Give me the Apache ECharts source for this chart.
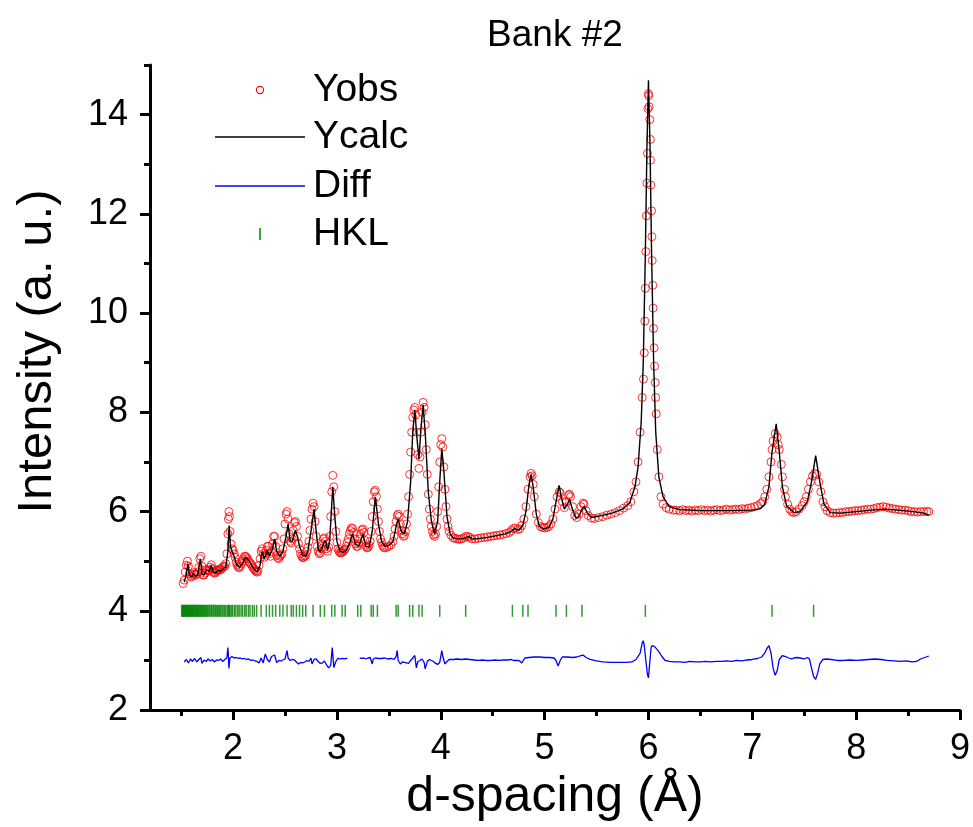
<!DOCTYPE html>
<html>
<head>
<meta charset="utf-8">
<title>Bank #2</title>
<script src="https://cdn.jsdelivr.net/npm/echarts@6/dist/echarts.min.js"></script>
<style>
  html, body { margin: 0; padding: 0; background: #ffffff; }
  #chart { width: 973px; height: 827px; }
</style>
</head>
<body>
<div id="chart"></div>
<script>
// Observed intensity [d-spacing (Å), intensity]
const yobs = [
  [1.52,4.55],[1.53,4.62],[1.54,4.78],[1.55,4.92],[1.56,5.00],[1.57,4.90],[1.58,4.75],[1.59,4.70],[1.60,4.68],
  [1.61,4.72],[1.62,4.77],[1.63,4.74],[1.64,4.72],[1.65,4.74],[1.66,4.78],[1.67,4.88],[1.68,5.05],[1.69,5.10],
  [1.70,4.90],[1.71,4.72],[1.72,4.72],[1.73,4.76],[1.74,4.83],[1.75,4.82],[1.76,4.80],[1.77,4.82],[1.78,4.88],
  [1.79,4.93],[1.80,4.85],[1.81,4.78],[1.82,4.76],[1.83,4.77],[1.84,4.80],[1.85,4.82],[1.86,4.84],[1.87,4.82],
  [1.88,4.83],[1.89,4.85],[1.90,4.88],[1.91,4.90],[1.92,4.90],[1.93,4.95],[1.94,5.15],[1.95,5.55],[1.955,5.85],
  [1.96,6.00],[1.965,5.90],[1.97,5.60],[1.98,5.35],[1.99,5.25],[2.00,5.22],[2.01,5.15],[2.02,5.08],[2.03,4.98],
  [2.04,4.92],[2.05,4.88],[2.06,4.87],[2.07,4.90],[2.08,4.95],[2.09,5.00],[2.10,5.05],[2.11,5.10],[2.12,5.10],
  [2.13,5.08],[2.14,5.05],[2.15,5.00],[2.16,4.97],[2.17,4.95],[2.18,4.92],[2.19,4.88],[2.20,4.85],[2.21,4.82],
  [2.22,4.80],[2.23,4.78],[2.24,4.80],[2.25,4.92],[2.26,5.05],[2.27,5.20],[2.28,5.25],[2.29,5.15],[2.30,5.08],
  [2.31,5.12],[2.32,5.22],[2.33,5.30],[2.34,5.30],[2.35,5.15],[2.36,5.10],[2.37,5.20],[2.38,5.35],[2.39,5.50],
  [2.40,5.50],[2.41,5.30],[2.42,5.12],[2.43,5.07],[2.44,5.05],[2.45,5.10],[2.46,5.12],[2.47,5.15],[2.48,5.25],
  [2.49,5.45],[2.50,5.75],[2.51,5.95],[2.52,6.00],[2.53,5.85],[2.54,5.55],[2.55,5.40],[2.56,5.37],[2.57,5.45],
  [2.58,5.62],[2.59,5.78],[2.60,5.80],[2.61,5.70],[2.62,5.50],[2.63,5.35],[2.64,5.25],[2.65,5.15],[2.66,5.10],
  [2.67,5.07],[2.68,5.08],[2.69,5.10],[2.70,5.12],[2.71,5.20],[2.72,5.28],[2.73,5.40],[2.74,5.62],[2.75,5.85],
  [2.76,6.05],[2.77,6.17],[2.78,6.10],[2.79,5.80],[2.80,5.50],[2.81,5.30],[2.82,5.20],[2.83,5.15],[2.84,5.17],
  [2.85,5.25],[2.86,5.35],[2.87,5.45],[2.88,5.47],[2.89,5.40],[2.90,5.25],[2.91,5.20],[2.92,5.28],[2.93,5.50],
  [2.94,5.90],[2.95,6.40],[2.96,6.73],[2.97,6.50],[2.98,6.00],[2.99,5.60],[3.00,5.38],[3.01,5.25],[3.02,5.20],
  [3.03,5.17],[3.04,5.17],[3.05,5.18],[3.06,5.20],[3.07,5.22],[3.08,5.25],[3.09,5.30],[3.10,5.38],[3.11,5.45],
  [3.12,5.55],[3.13,5.62],[3.14,5.67],[3.15,5.66],[3.16,5.58],[3.17,5.45],[3.18,5.35],[3.19,5.30],[3.20,5.30],
  [3.21,5.35],[3.22,5.45],[3.23,5.55],[3.24,5.63],[3.25,5.65],[3.26,5.58],[3.27,5.42],[3.28,5.30],[3.29,5.27],
  [3.30,5.28],[3.31,5.32],[3.32,5.40],[3.33,5.60],[3.34,5.90],[3.35,6.20],[3.36,6.40],[3.37,6.43],[3.38,6.30],
  [3.39,6.05],[3.40,5.80],[3.41,5.60],[3.42,5.45],[3.43,5.38],[3.44,5.32],[3.45,5.28],[3.46,5.27],[3.48,5.28],
  [3.50,5.30],[3.52,5.33],[3.54,5.40],[3.55,5.50],[3.56,5.65],[3.57,5.80],[3.58,5.92],[3.59,5.95],[3.60,5.90],
  [3.61,5.75],[3.62,5.62],[3.63,5.55],[3.64,5.50],[3.65,5.52],[3.66,5.60],[3.67,5.75],[3.68,5.95],[3.69,6.30],
  [3.70,6.75],[3.71,7.20],[3.72,7.60],[3.73,7.90],[3.74,8.05],[3.75,8.10],[3.76,7.95],[3.77,7.60],[3.78,7.15],
  [3.79,6.87],[3.80,7.10],[3.81,7.60],[3.82,8.00],[3.83,8.20],[3.84,8.10],[3.85,7.75],[3.86,7.25],[3.87,6.75],
  [3.88,6.35],[3.89,6.05],[3.90,5.85],[3.91,5.70],[3.92,5.60],[3.93,5.53],[3.94,5.50],[3.95,5.55],[3.96,5.70],
  [3.97,6.00],[3.98,6.50],[3.99,7.00],[4.00,7.35],[4.01,7.47],[4.02,7.30],[4.03,6.90],[4.04,6.45],[4.05,6.10],
  [4.06,5.85],[4.07,5.70],[4.08,5.60],[4.10,5.52],[4.12,5.47],[4.14,5.46],[4.16,5.45],[4.18,5.44],[4.20,5.45],
  [4.22,5.47],[4.24,5.50],[4.26,5.50],[4.28,5.48],[4.30,5.45],[4.33,5.45],[4.36,5.46],[4.39,5.47],[4.42,5.48],
  [4.45,5.49],[4.48,5.50],[4.51,5.51],[4.54,5.52],[4.57,5.53],[4.60,5.54],[4.63,5.56],[4.66,5.58],[4.68,5.62],
  [4.70,5.66],[4.72,5.67],[4.74,5.64],[4.76,5.65],[4.78,5.72],[4.80,5.85],[4.82,6.10],[4.84,6.45],[4.86,6.70],
  [4.87,6.77],[4.88,6.72],[4.89,6.55],[4.90,6.30],[4.92,5.95],[4.94,5.78],[4.96,5.70],[4.98,5.68],[5.00,5.67],
  [5.02,5.68],[5.04,5.70],[5.06,5.75],[5.08,5.85],[5.10,6.05],[5.12,6.30],[5.14,6.40],[5.15,6.38],[5.17,6.20],
  [5.19,6.08],[5.21,6.20],[5.23,6.33],[5.24,6.35],[5.25,6.30],[5.27,6.10],[5.29,5.92],[5.31,5.88],[5.33,5.95],
  [5.35,6.10],[5.37,6.17],[5.38,6.15],[5.40,6.02],[5.42,5.92],[5.45,5.87],[5.48,5.86],[5.52,5.88],[5.56,5.90],
  [5.60,5.93],[5.64,5.95],[5.68,5.98],[5.72,6.02],[5.76,6.07],[5.80,6.12],[5.83,6.20],[5.86,6.40],[5.88,6.60],
  [5.90,7.00],[5.92,7.60],[5.94,8.30],[5.952,8.67],[5.96,9.20],[5.965,9.84],[5.97,10.50],[5.975,11.24],
  [5.98,11.96],[5.985,12.62],[5.99,13.22],[5.995,14.12],[6.000,14.42],[6.002,14.38],[6.006,14.16],[6.013,13.90],
  [6.019,13.50],[6.020,13.08],[6.023,12.58],[6.030,12.06],[6.033,11.54],[6.036,11.06],[6.042,10.56],[6.045,10.10],
  [6.049,9.69],[6.055,9.30],[6.059,8.93],[6.065,8.60],[6.069,8.30],[6.075,7.97],[6.085,7.25],[6.10,6.70],
  [6.12,6.30],[6.14,6.15],[6.17,6.08],[6.20,6.05],[6.24,6.03],[6.27,6.03],[6.30,6.02],[6.33,6.04],[6.36,6.02],
  [6.39,6.03],[6.42,6.01],[6.45,6.03],[6.48,6.02],[6.51,6.04],[6.54,6.02],[6.57,6.03],[6.60,6.01],[6.63,6.03],
  [6.66,6.04],[6.69,6.02],[6.72,6.03],[6.75,6.05],[6.78,6.03],[6.81,6.04],[6.84,6.05],[6.87,6.04],[6.90,6.06],
  [6.93,6.05],[6.96,6.07],[6.99,6.08],[7.02,6.10],[7.05,6.12],[7.08,6.16],[7.10,6.20],[7.12,6.30],[7.14,6.45],
  [7.16,6.70],[7.18,7.00],[7.19,7.25],[7.20,7.42],[7.22,7.57],[7.24,7.50],[7.25,7.35],[7.26,7.25],[7.28,6.95],
  [7.29,6.70],[7.31,6.45],[7.32,6.30],[7.34,6.15],[7.36,6.05],[7.38,6.00],[7.40,5.98],[7.42,6.00],[7.45,6.05],
  [7.48,6.12],[7.50,6.20],[7.52,6.30],[7.54,6.45],[7.56,6.60],[7.58,6.72],[7.60,6.77],[7.62,6.75],[7.64,6.60],
  [7.66,6.40],[7.68,6.20],[7.70,6.10],[7.72,6.02],[7.75,5.98],[7.78,5.97],[7.81,5.97],[7.84,5.98],[7.87,5.98],
  [7.90,6.00],[7.93,6.00],[7.96,6.01],[7.99,6.02],[8.02,6.02],[8.05,6.03],[8.08,6.04],[8.11,6.05],[8.14,6.05],
  [8.17,6.06],[8.20,6.08],[8.23,6.09],[8.26,6.10],[8.29,6.09],[8.32,6.07],[8.35,6.06],[8.38,6.05],[8.41,6.04],
  [8.44,6.03],[8.47,6.03],[8.50,6.02],[8.53,6.00],[8.56,6.00],[8.59,5.99],[8.62,6.00],[8.65,6.00],[8.68,6.00],
  [8.70,6.00]
];

// Calculated profile [d-spacing (Å), intensity]
const ycalc = [
  [1.53,4.58],[1.55,4.75],[1.565,4.95],[1.58,4.72],[1.60,4.68],[1.62,4.75],[1.64,4.70],[1.66,4.72],[1.685,5.05],
  [1.70,4.75],[1.72,4.72],[1.745,4.82],[1.77,4.80],[1.79,4.92],[1.81,4.78],[1.83,4.76],[1.86,4.82],[1.88,4.80],
  [1.91,4.86],[1.93,4.88],[1.95,5.20],[1.962,5.72],[1.975,5.30],[1.99,5.20],[2.01,5.10],[2.03,4.95],[2.06,4.88],
  [2.09,4.95],[2.12,5.08],[2.14,5.05],[2.17,4.95],[2.20,4.85],[2.23,4.78],[2.26,4.92],[2.28,5.20],[2.30,5.05],
  [2.33,5.22],[2.35,5.10],[2.38,5.25],[2.40,5.45],[2.42,5.20],[2.45,5.10],[2.48,5.20],[2.51,5.50],[2.53,5.75],
  [2.55,5.40],[2.57,5.40],[2.60,5.62],[2.62,5.50],[2.64,5.30],[2.67,5.12],[2.70,5.10],[2.72,5.20],[2.75,5.60],
  [2.78,6.05],[2.80,5.60],[2.82,5.25],[2.84,5.18],[2.87,5.35],[2.89,5.42],[2.91,5.22],[2.93,5.40],[2.96,6.50],
  [2.98,5.90],[3.00,5.40],[3.03,5.20],[3.06,5.18],[3.09,5.22],[3.12,5.35],[3.15,5.55],[3.18,5.35],[3.21,5.30],
  [3.25,5.55],[3.28,5.30],[3.31,5.28],[3.34,5.60],[3.37,6.30],[3.40,5.75],[3.43,5.40],[3.46,5.30],[3.50,5.32],
  [3.54,5.40],[3.57,5.70],[3.59,5.85],[3.62,5.60],[3.65,5.55],[3.68,5.80],[3.71,6.60],[3.73,7.60],[3.75,8.05],
  [3.77,7.50],[3.79,7.05],[3.81,7.70],[3.83,8.15],[3.85,7.60],[3.88,6.40],[3.91,5.80],[3.94,5.55],[3.97,5.80],
  [3.99,6.60],[4.01,7.27],[4.03,6.80],[4.06,5.90],[4.09,5.55],[4.12,5.47],[4.16,5.45],[4.20,5.45],[4.24,5.47],
  [4.27,5.50],[4.30,5.45],[4.35,5.45],[4.45,5.48],[4.55,5.52],[4.62,5.55],[4.68,5.60],[4.71,5.66],[4.75,5.62],
  [4.79,5.72],[4.82,6.00],[4.85,6.55],[4.87,6.75],[4.89,6.50],[4.92,5.95],[4.95,5.70],[4.99,5.65],[5.04,5.68],
  [5.08,5.85],[5.11,6.20],[5.14,6.53],[5.16,6.30],[5.19,6.05],[5.22,6.15],[5.24,6.25],[5.26,6.10],[5.30,5.87],
  [5.33,5.90],[5.36,6.05],[5.38,6.10],[5.41,5.98],[5.45,5.88],[5.55,5.92],[5.65,5.97],[5.75,6.05],[5.82,6.18],
  [5.87,6.50],[5.90,6.90],[5.93,7.80],[5.95,9.00],[5.97,11.20],[5.985,13.30],[6.000,14.69],[6.015,13.40],
  [6.03,11.20],[6.05,9.00],[6.07,7.60],[6.10,6.70],[6.14,6.30],[6.20,6.10],[6.30,6.04],[6.50,6.02],[6.80,6.02],
  [7.00,6.03],[7.08,6.06],[7.12,6.15],[7.16,6.50],[7.19,7.20],[7.23,7.77],[7.26,7.20],[7.29,6.50],[7.33,6.12],
  [7.40,5.98],[7.46,6.00],[7.53,6.20],[7.57,6.60],[7.61,7.13],[7.65,6.60],[7.69,6.15],[7.75,5.98],[7.85,5.97],
  [8.00,6.00],[8.15,6.03],[8.27,6.05],[8.40,6.03],[8.55,6.00],[8.65,5.97],[8.70,5.93]
];

// Difference curve, offset to sit near 3 (null marks a break in the curve)
const diff = [
  [1.53,2.97],[1.55,3.02],[1.57,2.95],[1.59,3.03],[1.61,2.98],[1.63,3.04],[1.65,2.97],[1.67,3.02],[1.69,3.06],
  [1.70,2.94],[1.72,3.01],[1.74,2.98],[1.76,3.03],[1.78,2.99],[1.80,3.02],[1.82,2.97],[1.84,3.01],[1.86,3.00],
  [1.88,3.03],[1.90,2.98],[1.92,3.02],[1.94,3.05],[1.95,3.26],[1.955,3.10],[1.96,2.84],[1.97,3.05],[1.99,3.08],
  [2.01,3.05],[2.03,3.06],[2.05,3.04],[2.07,3.05],[2.09,3.03],[2.11,3.04],[2.13,3.02],[2.15,3.03],[2.17,3.00],
  [2.19,3.01],[2.21,2.99],[2.23,2.98],[2.25,2.95],[2.27,3.05],[2.29,2.95],[2.31,3.13],[2.33,3.02],[2.35,2.97],
  [2.37,3.08],[2.38,3.04],[2.40,3.11],[2.42,2.96],[2.44,3.00],[2.46,2.99],[2.48,3.01],[2.50,3.03],[2.52,3.20],
  [2.53,3.05],[2.55,3.00],[2.57,3.02],[2.59,3.01],[2.61,2.97],[2.63,2.93],[2.65,2.96],[2.67,2.95],[2.69,2.97],
  [2.71,3.00],[2.73,2.98],[2.75,3.05],[2.76,2.93],[2.78,3.02],[2.80,3.03],[2.82,2.98],[2.84,2.94],[2.86,2.95],
  [2.88,2.99],[2.90,2.91],[2.92,2.85],[2.94,2.90],[2.955,3.26],[2.97,2.86],[2.99,2.98],[3.01,3.04],[3.03,3.03],
  [3.05,3.04],[3.07,3.03],[3.09,3.04],[3.10,3.04],[3.16,null],[3.22,3.05],[3.24,3.04],[3.26,3.05],[3.28,3.03],
  [3.30,3.05],[3.32,3.06],[3.33,3.04],[3.34,2.93],[3.35,3.03],[3.37,3.05],[3.40,3.04],[3.43,3.04],[3.46,3.05],
  [3.49,3.03],[3.52,3.04],[3.55,3.02],[3.57,3.08],[3.58,3.20],[3.59,3.00],[3.61,2.93],[3.63,2.97],[3.65,2.96],
  [3.67,2.95],[3.69,2.94],[3.71,3.00],[3.73,3.05],[3.75,3.10],[3.765,2.85],[3.78,2.98],[3.80,3.00],[3.82,3.03],
  [3.84,2.96],[3.85,2.83],[3.87,2.98],[3.89,3.02],[3.91,3.00],[3.93,2.98],[3.95,2.94],[3.97,2.92],[3.99,2.96],
  [4.01,3.20],[4.02,3.08],[4.04,2.93],[4.06,2.98],[4.08,3.02],[4.12,3.02],[4.16,3.03],[4.20,3.02],[4.24,3.03],
  [4.28,3.02],[4.32,3.01],[4.36,3.00],[4.40,3.01],[4.44,3.00],[4.48,3.00],[4.52,3.01],[4.56,3.00],[4.60,3.01],
  [4.64,3.01],[4.68,3.02],[4.70,3.00],[4.74,3.00],[4.76,2.99],[4.78,2.95],[4.79,2.94],[4.81,3.05],[4.85,3.06],
  [4.90,3.07],[4.95,3.07],[5.00,3.06],[5.05,3.06],[5.09,3.05],[5.11,3.00],[5.13,2.89],[5.15,3.00],[5.17,3.07],
  [5.22,3.07],[5.27,3.06],[5.31,3.07],[5.35,3.10],[5.37,3.11],[5.40,3.06],[5.44,3.02],[5.50,2.99],[5.56,2.97],
  [5.64,2.96],[5.72,2.96],[5.79,2.96],[5.84,2.97],[5.88,3.02],[5.92,3.15],[5.94,3.35],[5.95,3.40],[5.96,3.30],
  [5.975,3.00],[5.99,2.72],[6.00,2.65],[6.01,2.90],[6.025,3.25],[6.035,3.30],[6.06,3.28],[6.08,3.23],[6.10,3.18],
  [6.13,3.08],[6.16,3.00],[6.20,2.98],[6.25,2.97],[6.30,2.97],[6.35,2.96],[6.40,2.98],[6.45,2.97],[6.50,2.97],
  [6.55,2.98],[6.60,2.97],[6.65,2.98],[6.70,2.98],[6.75,2.99],[6.80,2.98],[6.85,3.00],[6.90,2.99],[6.95,3.01],
  [7.00,3.02],[7.05,3.04],[7.09,3.07],[7.12,3.15],[7.14,3.24],[7.16,3.30],[7.18,3.15],[7.20,2.85],[7.22,2.70],
  [7.23,2.67],[7.24,2.80],[7.26,3.02],[7.29,3.10],[7.32,3.08],[7.35,3.05],[7.38,3.03],[7.40,3.05],[7.43,3.06],
  [7.46,3.05],[7.50,3.03],[7.53,3.06],[7.55,3.03],[7.57,2.85],[7.59,2.68],[7.61,2.62],[7.63,2.75],[7.65,2.93],
  [7.68,3.02],[7.71,3.03],[7.76,3.02],[7.82,3.00],[7.88,3.00],[7.94,3.01],[8.00,3.00],[8.06,3.01],[8.12,3.02],
  [8.18,3.03],[8.24,3.02],[8.30,3.00],[8.36,2.99],[8.42,2.98],[8.48,2.99],[8.54,2.97],[8.58,2.98],[8.62,3.03],
  [8.66,3.06],[8.70,3.09]
];

// Reflection positions (d-spacing, Å) and the level their markers sit at
const hklPositions = [
  1.505,1.511,1.518,1.523,1.531,1.536,1.543,1.549,1.555,1.562,1.566,1.574,1.579,1.587,1.592,1.598,1.606,1.611,
  1.619,1.627,1.632,1.641,1.647,1.655,1.661,1.670,1.676,1.686,1.692,1.701,1.707,1.717,1.724,1.734,1.741,1.751,
  1.759,1.770,1.777,1.789,1.796,1.808,1.816,1.828,1.837,1.849,1.858,1.871,1.881,1.894,1.904,1.918,1.929,1.944,
  1.955,1.963,1.971,1.985,1.997,2.014,2.027,2.045,2.059,2.077,2.092,2.112,2.126,2.147,2.163,2.186,2.204,2.227,
  2.27,2.32,2.35,2.38,2.41,2.45,2.48,2.52,2.56,2.58,2.61,2.64,2.67,2.70,2.77,2.84,2.88,2.95,2.98,3.05,3.08,
  3.20,3.23,3.33,3.35,3.39,3.57,3.59,3.70,3.73,3.79,3.82,3.99,4.24,4.69,4.79,4.84,5.11,5.21,5.36,5.97,7.19,7.59
];
const hklLevel = 4;

// Axis tick values
const xMajorTicks = [2, 3, 4, 5, 6, 7, 8, 9];
const xMinorTicks = [1.5, 2.5, 3.5, 4.5, 5.5, 6.5, 7.5, 8.5];
const yMajorTicks = [2, 4, 6, 8, 10, 12, 14];
const yMinorTicks = [3, 5, 7, 9, 11, 13, 15];

// Legend entries
const legendNames = ['Yobs', 'Ycalc', 'Diff', 'HKL'];

const FONT = '"Liberation Sans", Arial, Helvetica, sans-serif';
const X_MIN = 1.2, X_MAX = 9, Y_MIN = 2, Y_MAX = 15;
const COLORS = { obs: '#ff0000', calc: '#000000', diff: '#0000ff', hkl: '#008000' };

const chart = echarts.init(document.getElementById('chart'), null, { renderer: 'canvas' });

const hklData = hklPositions.map(d => [d, hklLevel]);

// Legend drawn as a column of key glyphs with labels in the upper-left of the plot
const LEG = { iconLeft: 215, iconRight: 305, iconMid: 260, textX: 313, rows: [90, 137, 186, 234] };
const legendGraphics = [
  { type: 'circle', shape: { cx: LEG.iconMid, cy: LEG.rows[0], r: 3.6 },
    style: { fill: 'none', stroke: COLORS.obs, lineWidth: 1.1 } },
  { type: 'line', shape: { x1: LEG.iconLeft, y1: LEG.rows[1], x2: LEG.iconRight, y2: LEG.rows[1] },
    style: { stroke: COLORS.calc, lineWidth: 1.3 } },
  { type: 'line', shape: { x1: LEG.iconLeft, y1: LEG.rows[2], x2: LEG.iconRight, y2: LEG.rows[2] },
    style: { stroke: COLORS.diff, lineWidth: 1.3 } },
  { type: 'rect', shape: { x: LEG.iconMid - 0.75, y: LEG.rows[3] - 6, width: 1.5, height: 12 },
    style: { fill: COLORS.hkl } }
].concat(legendNames.map((name, i) => ({
  type: 'text', x: LEG.textX, y: LEG.rows[i],
  style: { text: name, fontFamily: FONT, fontSize: 39, fill: '#000', align: 'left', verticalAlign: 'middle' }
})));

const option = {
  backgroundColor: '#ffffff',
  animation: false,
  title: {
    text: 'Bank #2',
    left: 550,
    top: 12,
    textAlign: 'center',
    textStyle: { fontFamily: FONT, fontSize: 37, fontWeight: 'normal', color: '#000' }
  },
  graphic: legendGraphics,
  grid: { left: 150, right: 13, top: 65, bottom: 112 },
  xAxis: [
    {
      type: 'value', min: X_MIN, max: X_MAX, position: 'bottom',
      name: 'd-spacing (Å)', nameLocation: 'middle', nameGap: 56,
      nameTextStyle: { fontFamily: FONT, fontSize: 50, color: '#000' },
      axisLine: { onZero: false, lineStyle: { color: '#000', width: 3 } },
      axisTick: { customValues: xMajorTicks, length: 10, lineStyle: { color: '#000', width: 3 } },
      axisLabel: { customValues: xMajorTicks, fontFamily: FONT, fontSize: 36, color: '#000', margin: 21 },
      splitLine: { show: false }
    },
    {
      type: 'value', min: X_MIN, max: X_MAX, position: 'bottom',
      axisLine: { show: false, onZero: false },
      axisTick: { customValues: xMinorTicks, length: 6, lineStyle: { color: '#000', width: 3 } },
      axisLabel: { show: false },
      splitLine: { show: false }
    }
  ],
  yAxis: [
    {
      type: 'value', min: Y_MIN, max: Y_MAX, position: 'left',
      name: 'Intensity (a. u.)', nameLocation: 'middle', nameGap: 88,
      nameTextStyle: { fontFamily: FONT, fontSize: 49, color: '#000', padding: [0, 0, 0, 72] },
      axisLine: { onZero: false, lineStyle: { color: '#000', width: 3 } },
      axisTick: { customValues: yMajorTicks, length: 10, lineStyle: { color: '#000', width: 3 } },
      axisLabel: { customValues: yMajorTicks, fontFamily: FONT, fontSize: 36, color: '#000', margin: 22 },
      splitLine: { show: false }
    },
    {
      type: 'value', min: Y_MIN, max: Y_MAX, position: 'left',
      axisLine: { show: false, onZero: false },
      axisTick: { customValues: yMinorTicks, length: 6, lineStyle: { color: '#000', width: 3 } },
      axisLabel: { show: false },
      splitLine: { show: false }
    }
  ],
  series: [
    {
      name: 'Yobs', type: 'scatter', xAxisIndex: 0, yAxisIndex: 0,
      data: yobs, symbol: 'circle', symbolSize: 8,
      itemStyle: { color: 'rgba(0,0,0,0)', borderColor: COLORS.obs, borderWidth: 1 },
      z: 2, silent: true
    },
    {
      name: 'Ycalc', type: 'line', xAxisIndex: 0, yAxisIndex: 0,
      data: ycalc, symbol: 'none', showSymbol: false,
      itemStyle: { color: COLORS.calc },
      lineStyle: { color: COLORS.calc, width: 1.4 },
      z: 3, silent: true
    },
    {
      name: 'Diff', type: 'line', xAxisIndex: 0, yAxisIndex: 0,
      data: diff, symbol: 'none', showSymbol: false, connectNulls: false,
      itemStyle: { color: COLORS.diff },
      lineStyle: { color: COLORS.diff, width: 1.3 },
      z: 3, silent: true
    },
    {
      name: 'HKL', type: 'scatter', xAxisIndex: 0, yAxisIndex: 0,
      data: hklData, symbol: 'rect', symbolSize: [1.5, 12],
      itemStyle: { color: COLORS.hkl },
      z: 2, silent: true
    }
  ]
};

chart.setOption(option);
</script>
</body>
</html>
